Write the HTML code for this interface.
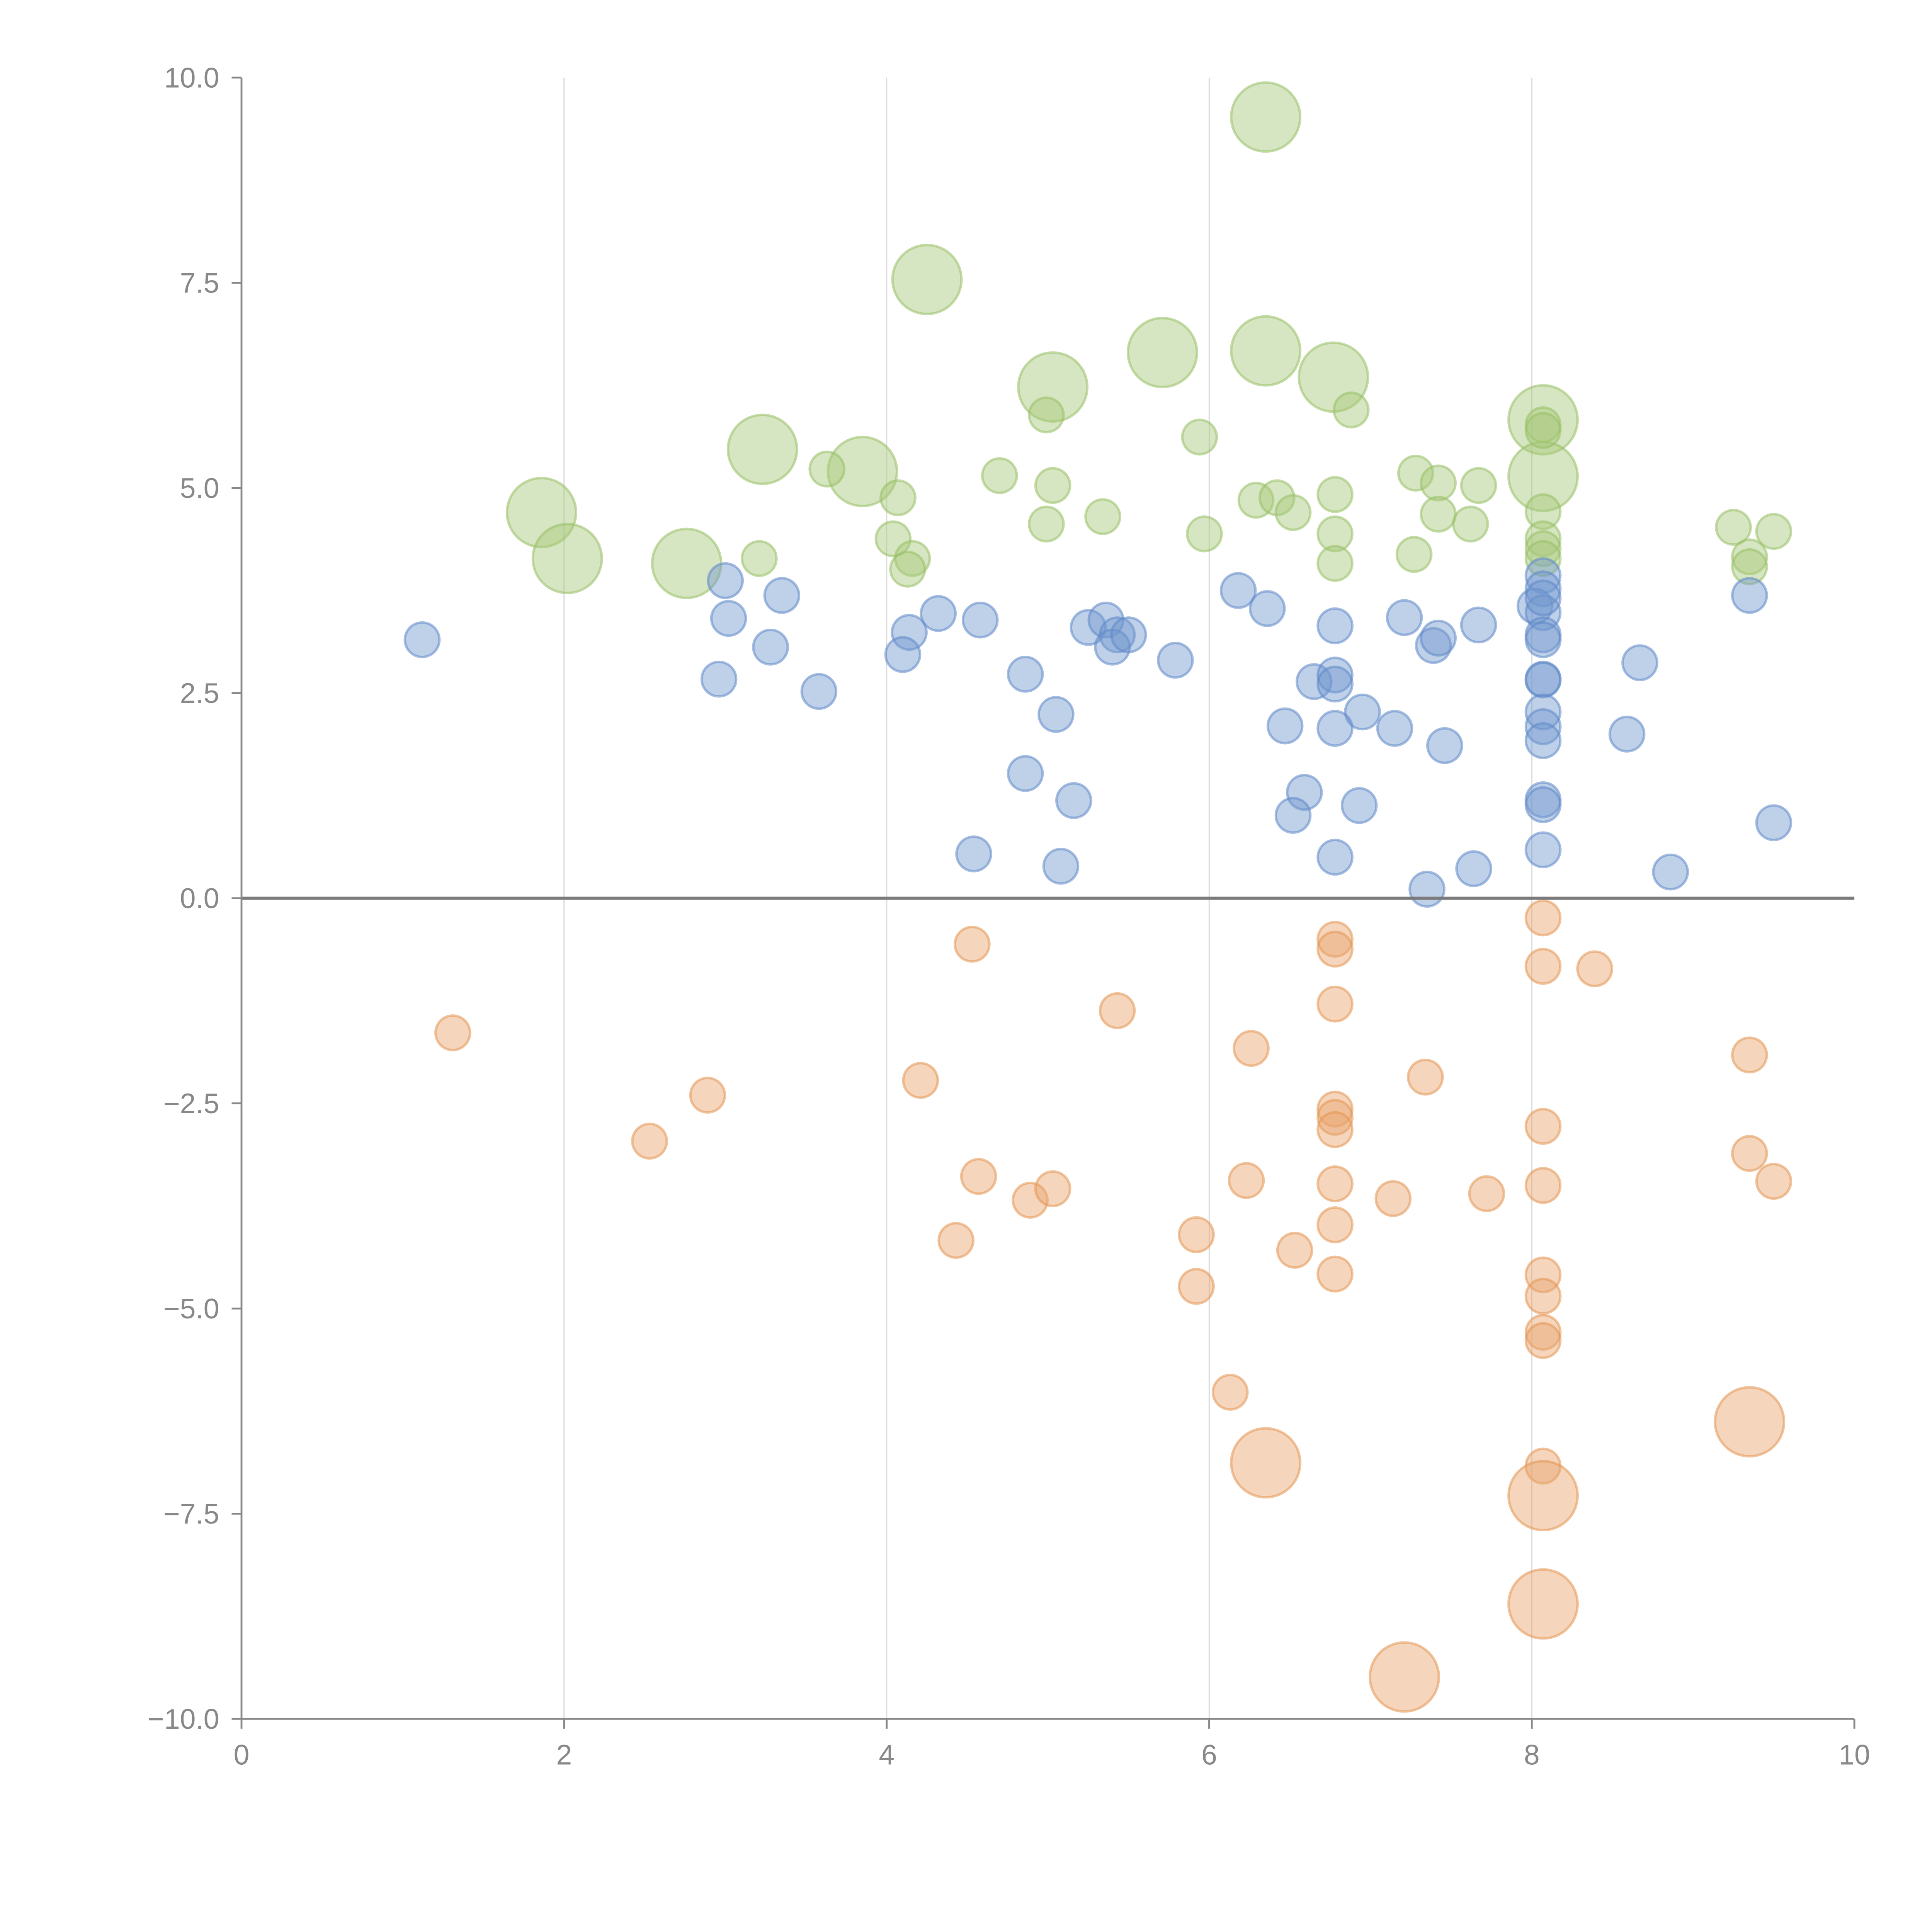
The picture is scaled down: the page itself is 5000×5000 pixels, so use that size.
<!DOCTYPE html>
<html><head><meta charset="utf-8"><style>
html,body{margin:0;padding:0;background:#fff}
svg{display:block}
text{font-family:"Liberation Sans",Arial,sans-serif;fill:#888;font-size:23px}
</style></head><body>
<svg id="chart" width="5000" height="5000" viewBox="0 0 1568 1568" xmlns="http://www.w3.org/2000/svg">
<g id="grid"></g>
<g id="marks"></g>
<g id="axes"></g>
</svg>
<script>
const xTicks=[0,2,4,6,8,10];
const yTicks=[10,7.5,5,2.5,0,-2.5,-5,-7.5,-10];
const yTickLabels=["10.0","7.5","5.0","2.5","0.0","\u22122.5","\u22125.0","\u22127.5","\u221210.0"];
// green series
const greenX=[6.35,4.25,5.71,6.35,6.77,5.03,8.07,8.07,3.23,3.85,1.86,2.02,2.76,4.99,6.88,8.07,8.07,5.94,3.63,4.70,5.03,4.07,5.34,4.99,7.28,7.42,7.67,6.78,6.29,6.42,6.52,7.42,7.62,8.07,6.78,5.97,4.04,8.07,8.07,7.27,8.07,4.16,4.13,3.21,6.78,9.25,9.50,9.35,9.35];
const greenY=[9.52,7.54,6.65,6.67,6.35,6.23,5.83,5.14,5.47,5.20,4.70,4.14,4.08,5.89,5.95,5.77,5.70,5.62,5.23,5.15,5.03,4.88,4.65,4.56,5.18,5.06,5.03,4.92,4.85,4.88,4.70,4.68,4.56,4.71,4.44,4.44,4.38,4.38,4.26,4.19,4.14,4.14,4.01,4.14,4.08,4.52,4.47,4.16,4.04];
const greenS=[4,4,4,4,4,4,4,4,4,4,4,4,4,1,1,1,1,1,1,1,1,1,1,1,1,1,1,1,1,1,1,1,1,1,1,1,1,1,1,1,1,1,1,1,1,1,1,1,1];
// blue series
const blueX=[1.12,3.00,3.02,3.35,3.28,2.96,3.58,4.32,4.14,4.10,4.58,4.86,5.05,4.86,5.16,4.54,5.08,5.25,5.36,5.43,5.40,5.50,5.79,6.18,6.36,6.78,6.65,6.78,6.78,6.95,6.47,6.78,7.15,7.46,7.21,7.39,7.42,7.67,6.59,6.52,6.93,6.78,7.35,7.64,8.07,8.07,8.02,8.07,8.07,8.07,8.07,8.07,8.07,8.07,8.07,8.07,8.07,8.07,8.07,8.67,8.59,8.86,9.35,9.50];
const blueY=[3.15,3.87,3.41,3.69,3.06,2.67,2.52,3.47,3.24,2.97,3.39,2.73,2.24,1.52,1.19,0.54,0.39,3.30,3.39,3.21,3.06,3.21,2.90,3.75,3.53,3.32,2.64,2.72,2.61,2.27,2.10,2.07,2.07,1.86,3.42,3.08,3.17,3.33,1.29,1.01,1.13,0.50,0.11,0.36,3.93,3.77,3.56,3.48,3.66,3.21,3.15,2.67,2.66,2.27,2.09,1.92,1.20,1.14,0.59,2.87,2.00,0.32,3.69,0.92];
// orange series
const orangeX=[1.31,2.89,2.53,4.21,4.53,4.57,4.89,5.03,4.43,5.43,6.26,6.23,5.92,5.92,6.53,6.13,6.35,7.21,6.78,6.78,6.78,6.78,6.78,6.78,6.78,6.78,6.78,7.34,7.14,7.72,8.07,8.07,8.07,8.07,8.07,8.07,8.07,8.07,8.07,8.07,8.07,8.39,9.35,9.35,9.50,9.35];
const orangeY=[-1.64,-2.40,-2.96,-2.22,-0.56,-3.39,-3.68,-3.54,-4.17,-1.37,-1.83,-3.44,-4.10,-4.73,-4.29,-6.02,-6.88,-9.49,-0.50,-0.62,-1.29,-2.57,-2.67,-2.82,-3.48,-3.98,-4.58,-2.18,-3.66,-3.60,-0.24,-0.83,-2.78,-3.50,-4.59,-4.85,-5.29,-5.39,-6.92,-7.28,-8.60,-0.86,-1.91,-3.11,-3.45,-6.38];
const orangeS=[1,1,1,1,1,1,1,1,1,1,1,1,1,1,1,1,4,4,1,1,1,1,1,1,1,1,1,1,1,1,1,1,1,1,1,1,1,1,1,4,4,1,1,1,1,4];

const NS="http://www.w3.org/2000/svg";
const X0=196,X1=1505,Y0=1395,Y1=63;
function sx(v){return X0+(v-0)/(10-0)*(X1-X0);}
function sy(v){return Y0-(v+10)/20*(Y0-Y1);}
function mk(tag,attrs,parent){const e=document.createElementNS(NS,tag);for(const k in attrs)e.setAttribute(k,attrs[k]);parent.appendChild(e);return e;}
const grid=document.getElementById('grid'),marks=document.getElementById('marks'),axes=document.getElementById('axes');

xTicks.forEach(t=>{
  if(t>0&&t<10){
    const g=mk('line',{x1:sx(t),x2:sx(t),y1:Y1,y2:Y0,stroke:'#dcdcdc','stroke-width':1},grid);
    
    
  }
});

function drawSeries(xs,ys,ss,fill,stroke,name){
  xs.forEach((x,i)=>{
    const s=ss?ss[i]:1;
    const r=14*Math.sqrt(s);
    const c=mk('circle',{cx:sx(x),cy:sy(ys[i]),r:r,fill:fill,'fill-opacity':0.45,stroke:stroke,'stroke-opacity':0.55,'stroke-width':2},marks);
    
    
  });
}
drawSeries(greenX,greenY,greenS,'#a6c878','#98bf66','bubble-green');
drawSeries(blueX,blueY,null,'#7097cf','#5f88c8','bubble-blue');
drawSeries(orangeX,orangeY,orangeS,'#e9a56c','#e39552','bubble-orange');

// zero line
const z=mk('line',{x1:X0,x2:X1,y1:sy(0),y2:sy(0),stroke:'#7a7a7a','stroke-width':2.5},axes);


// y axis
const ya=mk('line',{x1:X0,x2:X0,y1:Y1,y2:Y0,stroke:'#888','stroke-width':1.5},axes);


yTicks.forEach((t,i)=>{
  const tk=mk('line',{x1:X0-8,x2:X0,y1:sy(t),y2:sy(t),stroke:'#888','stroke-width':1.5},axes);
  
  
  const tx=mk('text',{x:X0-18,y:sy(t)+8,'text-anchor':'end'},axes);
  tx.textContent=yTickLabels[i];
  
  
});
// x axis
const xa=mk('line',{x1:X0,x2:X1,y1:Y0,y2:Y0,stroke:'#888','stroke-width':1.5},axes);


xTicks.forEach(t=>{
  const tk=mk('line',{x1:sx(t),x2:sx(t),y1:Y0,y2:Y0+8,stroke:'#888','stroke-width':1.5},axes);
  
  
  const tx=mk('text',{x:sx(t),y:Y0+37,'text-anchor':'middle'},axes);
  tx.textContent=String(t);
  
  
});
</script>
</body></html>
